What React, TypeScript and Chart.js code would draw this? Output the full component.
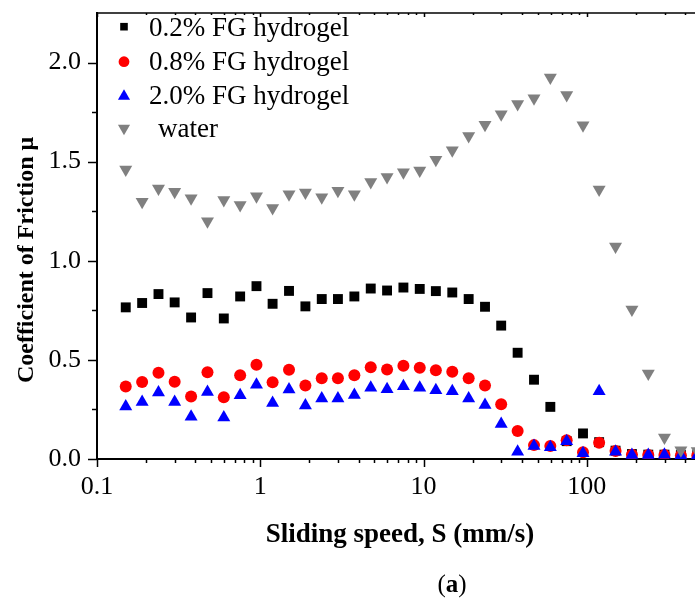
import React, { useEffect, useRef } from 'react';
import { Chart, registerables } from 'chart.js';

Chart.register(...registerables);

// Sliding speed (mm/s)
const speeds = [
  0.15, 0.189, 0.238, 0.299, 0.377, 0.475, 0.598, 0.753, 0.948, 1.19,
  1.5, 1.89, 2.38, 2.99, 3.77, 4.75, 5.98, 7.53, 9.48, 11.9,
  15.0, 18.9, 23.8, 29.9, 37.7, 47.5, 59.8, 75.3, 94.8, 119,
  150, 189, 238, 299, 377, 475,
];

// Coefficient of friction
const fg02 = [
  0.765, 0.787, 0.832, 0.790, 0.714, 0.837, 0.709, 0.820, 0.872, 0.783,
  0.848, 0.770, 0.807, 0.807, 0.820, 0.860, 0.850, 0.865, 0.858, 0.847,
  0.840, 0.807, 0.768, 0.673, 0.536, 0.400, 0.263, 0.090, 0.129, 0.085,
  0.042, 0.025, 0.022, 0.022, 0.020, 0.020,
];
const fg08 = [
  0.366, 0.388, 0.435, 0.390, 0.315, 0.438, 0.311, 0.423, 0.475, 0.387,
  0.450, 0.371, 0.407, 0.407, 0.423, 0.463, 0.452, 0.470, 0.460, 0.448,
  0.440, 0.407, 0.371, 0.276, 0.141, 0.070, 0.065, 0.095, 0.034, 0.082,
  0.040, 0.022, 0.020, 0.020, 0.018, 0.018,
];
const fg20 = [
  0.265, 0.287, 0.335, 0.288, 0.213, 0.338, 0.209, 0.322, 0.375, 0.283,
  0.350, 0.270, 0.305, 0.305, 0.323, 0.360, 0.352, 0.367, 0.360, 0.347,
  0.342, 0.305, 0.272, 0.176, 0.036, 0.066, 0.059, 0.089, 0.029, 0.342,
  0.036, 0.020, 0.020, 0.022, 0.018, 0.018,
];
const water = [
  1.461, 1.298, 1.364, 1.348, 1.316, 1.200, 1.307, 1.281, 1.326, 1.266,
  1.336, 1.344, 1.321, 1.353, 1.336, 1.398, 1.423, 1.446, 1.456, 1.510,
  1.557, 1.630, 1.686, 1.739, 1.791, 1.820, 1.925, 1.836, 1.684, 1.359,
  1.072, 0.754, 0.431, 0.108, 0.044, 0.040,
];

const seriesNames = ['0.2% FG hydrogel', '0.8% FG hydrogel', '2.0% FG hydrogel', 'water'];
const seriesColors = ['#000000', '#ff0000', '#0000ff', '#808080'];
const xTickLabels: Record<string, string> = { '-1': '0.1', '0': '1', '1': '10', '2': '100' };
const xTitle = 'Sliding speed, S (mm/s)';
const yTitle = 'Coefficient of Friction \u03bc';
const X_MIN = 0.1;
const X_MAX = 460;
const Y_MIN = 0;
const Y_MAX = 2.25;

const SERIF = "'Liberation Serif', 'Times New Roman', Times, serif";

const R_RECT = 7;
const R_CIRC = 6;
const R_UP = 7.5;
const R_DOWN = 7.5;

function drawMarker(ctx: CanvasRenderingContext2D, kind: string, x: number, y: number, color: string) {
  ctx.fillStyle = color;
  ctx.beginPath();
  if (kind === 'rect') {
    const s = 3.8;
    ctx.rect(x - s, y - s, 2 * s, 2 * s);
  } else if (kind === 'circle') {
    ctx.arc(x, y, 5.4, 0, Math.PI * 2);
  } else if (kind === 'up') {
    const r = 7;
    ctx.moveTo(x, y - r);
    ctx.lineTo(x + 0.866 * r, y + r / 2);
    ctx.lineTo(x - 0.866 * r, y + r / 2);
    ctx.closePath();
  } else {
    const r = 7;
    ctx.moveTo(x, y + r);
    ctx.lineTo(x + 0.866 * r, y - r / 2);
    ctx.lineTo(x - 0.866 * r, y - r / 2);
    ctx.closePath();
  }
  ctx.fill();
}

const decorPlugin = {
  id: 'decor',
  afterDraw(chart: any) {
    const { ctx, chartArea } = chart;
    const xs = chart.scales.x;
    const ys = chart.scales.y;
    ctx.save();
    ctx.strokeStyle = '#000';
    // top border
    ctx.lineWidth = 1.5;
    ctx.beginPath();
    ctx.moveTo(chartArea.left, chartArea.top);
    ctx.lineTo(chartArea.right, chartArea.top);
    ctx.stroke();
    // x ticks (log major/minor)
    ctx.lineWidth = 1.5;
    for (let e = -1; e <= 3; e++) {
      for (let m = 1; m <= 9; m++) {
        const v = m * Math.pow(10, e);
        if (v < X_MIN * 0.999 || v > X_MAX) continue;
        const px = Math.round(xs.getPixelForValue(v)) + 0.5;
        const len = m === 1 ? 8 : 4;
        ctx.beginPath();
        ctx.moveTo(px, chartArea.bottom);
        ctx.lineTo(px, chartArea.bottom + len);
        ctx.moveTo(px, chartArea.top);
        ctx.lineTo(px, chartArea.top + (m === 1 ? 4 : 2));
        ctx.stroke();
      }
    }
    // y ticks
    for (let i = 0; i * 0.25 <= Y_MAX - 0.1; i++) {
      const v = i * 0.25;
      const py = Math.round(ys.getPixelForValue(v)) + 0.5;
      const len = i % 2 === 0 ? 9 : 5;
      ctx.beginPath();
      ctx.moveTo(chartArea.left, py);
      ctx.lineTo(chartArea.left - len, py);
      ctx.stroke();
    }
    // legend
    const kinds = ['rect', 'circle', 'up', 'down'];
    const markerY = [26.7, 61.7, 96.2, 128.2];
    const textY = [36, 70, 103.5, 137];
    const textX = [149, 149, 149, 158];
    ctx.font = `27px ${SERIF}`;
    ctx.textAlign = 'left';
    ctx.textBaseline = 'alphabetic';
    for (let i = 0; i < 4; i++) {
      drawMarker(ctx, kinds[i], 124, markerY[i], seriesColors[i]);
      ctx.fillStyle = '#000';
      ctx.fillText(seriesNames[i], textX[i], textY[i]);
    }
    // y title
    ctx.save();
    ctx.translate(27, 260);
    ctx.rotate(-Math.PI / 2);
    ctx.font = `bold 24px ${SERIF}`;
    ctx.textAlign = 'center';
    ctx.textBaseline = 'middle';
    ctx.fillStyle = '#000';
    ctx.fillText(yTitle, 0, 0);
    ctx.restore();
    // x title
    ctx.font = `bold 27px ${SERIF}`;
    ctx.textAlign = 'center';
    ctx.textBaseline = 'alphabetic';
    ctx.fillStyle = '#000';
    ctx.fillText(xTitle, 400, 542);
    // panel label (a)
    ctx.font = `25px ${SERIF}`;
    const w1 = ctx.measureText('(').width;
    ctx.font = `bold 25px ${SERIF}`;
    const w2 = ctx.measureText('a').width;
    ctx.font = `25px ${SERIF}`;
    const w3 = ctx.measureText(')').width;
    let sx = 452 - (w1 + w2 + w3) / 2;
    ctx.textAlign = 'left';
    ctx.fillText('(', sx, 592);
    sx += w1;
    ctx.font = `bold 25px ${SERIF}`;
    ctx.fillText('a', sx, 592);
    sx += w2;
    ctx.font = `25px ${SERIF}`;
    ctx.fillText(')', sx, 592);
    ctx.restore();
  },
};

export default function App() {
  const canvasRef = useRef<HTMLCanvasElement | null>(null);

  useEffect(() => {
    const canvas = canvasRef.current;
    if (!canvas) return;
    const mk = (ys: number[]) => speeds.map((s, i) => ({ x: s, y: ys[i] }));
    const zeroPad = (s: any) => {
      s.paddingTop = 0;
      s.paddingBottom = 0;
      s.paddingLeft = 0;
      s.paddingRight = 0;
    };
    const chart = new Chart(canvas, {
      type: 'scatter',
      data: {
        datasets: [
          { label: seriesNames[0], data: mk(fg02), pointStyle: 'rect', pointRadius: R_RECT, backgroundColor: seriesColors[0], borderWidth: 0, order: 4 },
          { label: seriesNames[1], data: mk(fg08), pointStyle: 'circle', pointRadius: R_CIRC, backgroundColor: seriesColors[1], borderWidth: 0, order: 3 },
          { label: seriesNames[2], data: mk(fg20), pointStyle: 'triangle', pointRadius: R_UP, backgroundColor: seriesColors[2], borderWidth: 0, order: 2 },
          { label: seriesNames[3], data: mk(water), pointStyle: 'triangle', rotation: 180, pointRadius: R_DOWN, backgroundColor: seriesColors[3], borderWidth: 0, order: 1 },
        ] as any,
      },
      options: {
        animation: false,
        responsive: false,
        maintainAspectRatio: false,
        devicePixelRatio: 1,
        layout: { autoPadding: false, padding: { top: 13, right: 0, left: 0, bottom: 0 } },
        plugins: { legend: { display: false }, tooltip: { enabled: false }, title: { display: false } },
        scales: {
          x: {
            type: 'logarithmic',
            min: X_MIN,
            max: X_MAX,
            grid: { display: false, drawTicks: false, tickLength: 0 },
            border: { display: true, color: '#000', width: 2 },
            ticks: {
              autoSkip: false,
              maxRotation: 0,
              minRotation: 0,
              padding: 13,
              color: '#000',
              font: { family: SERIF, size: 26 },
              callback: (v: any) => {
                const l = Math.log10(Number(v));
                const r = Math.round(l);
                return Math.abs(l - r) < 1e-6 && xTickLabels[String(r)] ? xTickLabels[String(r)] : '';
              },
            },
            afterFit: (s: any) => { s.height = 140; zeroPad(s); },
          },
          y: {
            min: Y_MIN,
            max: Y_MAX,
            grid: { display: false, drawTicks: false, tickLength: 0 },
            border: { display: true, color: '#000', width: 2 },
            ticks: {
              stepSize: 0.5,
              padding: 16,
              color: '#000',
              font: { family: SERIF, size: 26 },
              callback: (v: any) => {
                const n = Number(v);
                return Math.abs(n * 2 - Math.round(n * 2)) < 1e-6 ? n.toFixed(1) : '';
              },
            },
            afterFit: (s: any) => { s.width = 97; zeroPad(s); },
          },
        },
      } as any,
      plugins: [decorPlugin],
    });
    return () => chart.destroy();
  }, []);

  return (
    <div style={{ position: 'fixed', left: 0, top: 0, width: 695, height: 599, background: '#fff' }}>
      <canvas ref={canvasRef} width={695} height={599} style={{ width: 695, height: 599, display: 'block' }} />
    </div>
  );
}
